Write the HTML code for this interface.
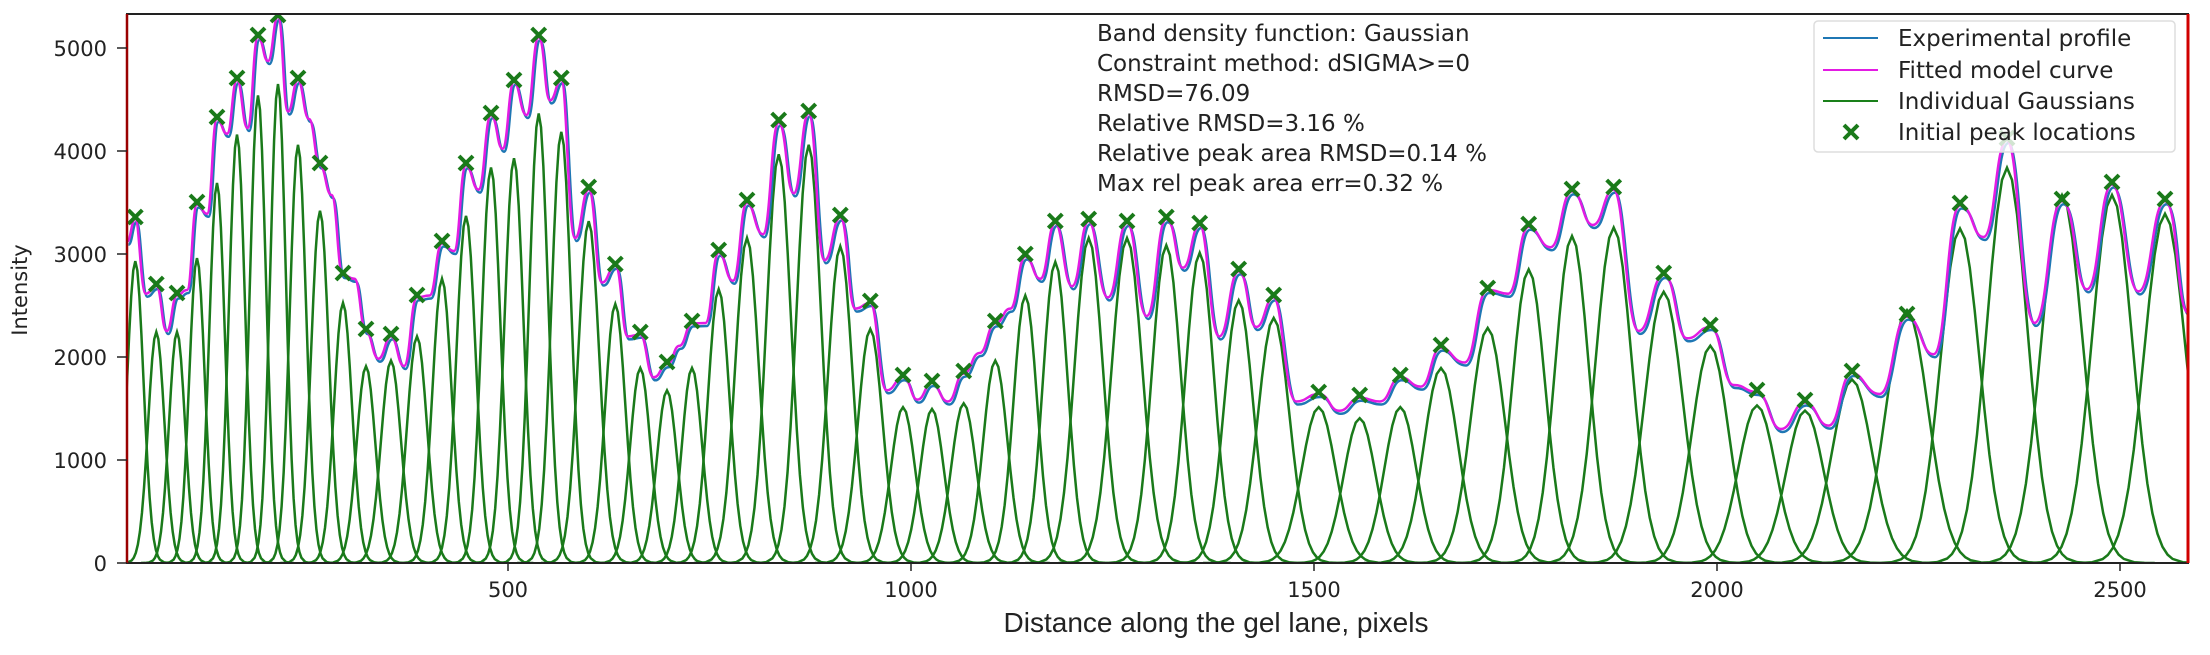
<!DOCTYPE html>
<html><head><meta charset="utf-8">
<style>
html,body{margin:0;padding:0;background:#fff;}
svg{display:block;font-family:"DejaVu Sans","Liberation Sans",sans-serif;}
</style></head>
<body>
<svg width="2210" height="655" viewBox="0 0 2210 655" xmlns="http://www.w3.org/2000/svg" xmlns:xlink="http://www.w3.org/1999/xlink">
<defs>
<clipPath id="c"><rect x="127" y="14" width="2061" height="549"/></clipPath>
<path id="gs" d="M-4.5 0L-4 -.0003L-3.5 -.0022L-3 -.0111L-2.75 -.0228L-2.5 -.0439L-2.25 -.0796L-2 -.1353L-1.75 -.2163L-1.5 -.3247L-1.25 -.4578L-1 -.6065L-.75 -.7548L-.5 -.8825L-.25 -.9692L0 -1L.25 -.9692L.5 -.8825L.75 -.7548L1 -.6065L1.25 -.4578L1.5 -.3247L1.75 -.2163L2 -.1353L2.25 -.0796L2.5 -.0439L2.75 -.0228L3 -.0111L3.5 -.0022L4 -.0003L4.5 0" fill="none" stroke="#1a7a1a" stroke-width="2.5" vector-effect="non-scaling-stroke"/>
<path id="mx" d="M-7 -7L7 7M7 -7L-7 7" stroke="#1a7a1a" stroke-width="4"/>
</defs>
<rect width="2210" height="655" fill="#fff"/>
<g clip-path="url(#c)">
<use href="#gs" transform="translate(135.3,563) scale(8.2,301.8)"/>
<use href="#gs" transform="translate(156.3,563) scale(8.2,231)"/>
<use href="#gs" transform="translate(177,563) scale(8,231)"/>
<use href="#gs" transform="translate(197,563) scale(7.8,304.9)"/>
<use href="#gs" transform="translate(217,563) scale(7.8,380.1)"/>
<use href="#gs" transform="translate(237,563) scale(8,428.5)"/>
<use href="#gs" transform="translate(258,563) scale(8,467.6)"/>
<use href="#gs" transform="translate(278,563) scale(7.8,479)"/>
<use href="#gs" transform="translate(298,563) scale(8.2,418.2)"/>
<use href="#gs" transform="translate(320,563) scale(8.8,352.3)"/>
<use href="#gs" transform="translate(343,563) scale(9,260.1)"/>
<use href="#gs" transform="translate(366,563) scale(9.4,196.7)"/>
<use href="#gs" transform="translate(391,563) scale(10,202.4)"/>
<use href="#gs" transform="translate(417,563) scale(10,226.6)"/>
<use href="#gs" transform="translate(442,563) scale(9.6,284.3)"/>
<use href="#gs" transform="translate(466,563) scale(9.6,347.1)"/>
<use href="#gs" transform="translate(491,563) scale(9.4,395.5)"/>
<use href="#gs" transform="translate(514,563) scale(9.4,404.8)"/>
<use href="#gs" transform="translate(538.7,563) scale(9.3,449.6)"/>
<use href="#gs" transform="translate(561.3,563) scale(9.8,431.1)"/>
<use href="#gs" transform="translate(588.7,563) scale(10.6,341.8)"/>
<use href="#gs" transform="translate(615.3,563) scale(10.1,259)"/>
<use href="#gs" transform="translate(640.3,563) scale(10.1,195)"/>
<use href="#gs" transform="translate(667,563) scale(10.1,172.6)"/>
<use href="#gs" transform="translate(692,563) scale(10.1,195)"/>
<use href="#gs" transform="translate(718.7,563) scale(10.8,273.8)"/>
<use href="#gs" transform="translate(747,563) scale(11.8,325.1)"/>
<use href="#gs" transform="translate(778.7,563) scale(12.1,408.7)"/>
<use href="#gs" transform="translate(808.7,563) scale(12.1,418.2)"/>
<use href="#gs" transform="translate(840.3,563) scale(12.1,316.7)"/>
<use href="#gs" transform="translate(870.3,563) scale(12.3,234)"/>
<use href="#gs" transform="translate(903,563) scale(12.1,155.8)"/>
<use href="#gs" transform="translate(932,563) scale(11.9,154)"/>
<use href="#gs" transform="translate(963.7,563) scale(12.4,159.7)"/>
<use href="#gs" transform="translate(995.3,563) scale(12.1,202.4)"/>
<use href="#gs" transform="translate(1025.3,563) scale(11.8,267.5)"/>
<use href="#gs" transform="translate(1055.3,563) scale(12.4,301)"/>
<use href="#gs" transform="translate(1088.7,563) scale(14.1,325)"/>
<use href="#gs" transform="translate(1127,563) scale(15.2,325)"/>
<use href="#gs" transform="translate(1166.3,563) scale(14.3,317.7)"/>
<use href="#gs" transform="translate(1199.7,563) scale(14.2,310.2)"/>
<use href="#gs" transform="translate(1238.7,563) scale(14.5,262.7)"/>
<use href="#gs" transform="translate(1273.7,563) scale(15.7,245.1)"/>
<use href="#gs" transform="translate(1318.7,563) scale(16.9,155.8)"/>
<use href="#gs" transform="translate(1359.7,563) scale(16,144.8)"/>
<use href="#gs" transform="translate(1400.3,563) scale(15.9,155.9)"/>
<use href="#gs" transform="translate(1441,563) scale(17.1,195)"/>
<use href="#gs" transform="translate(1487.7,563) scale(17.2,235.1)"/>
<use href="#gs" transform="translate(1528.7,563) scale(16.5,293.6)"/>
<use href="#gs" transform="translate(1572,563) scale(16.7,327)"/>
<use href="#gs" transform="translate(1613.7,563) scale(18,335.5)"/>
<use href="#gs" transform="translate(1663.7,563) scale(18.9,271.2)"/>
<use href="#gs" transform="translate(1710.3,563) scale(18.3,217.3)"/>
<use href="#gs" transform="translate(1757,563) scale(18.6,157.6)"/>
<use href="#gs" transform="translate(1805,563) scale(18.6,152.4)"/>
<use href="#gs" transform="translate(1852,563) scale(20,183.5)"/>
<use href="#gs" transform="translate(1907,563) scale(21.2,252.9)"/>
<use href="#gs" transform="translate(1960,563) scale(19.6,334.5)"/>
<use href="#gs" transform="translate(2007,563) scale(20,395.3)"/>
<use href="#gs" transform="translate(2062,563) scale(20.6,368)"/>
<use href="#gs" transform="translate(2112,563) scale(20.2,368)"/>
<use href="#gs" transform="translate(2165,563) scale(20.8,349.2)"/>
<g id="fit">
<path id="fp" d="M127 241.6C131 241.6 131.2 219 135.3 219S140.6 293.7 145.8 293.7S151.1 286 156.3 286S161.5 331 166.7 331S171.9 295.5 177 295.5S182 290 187 290S192 204.5 197 204.5S202 213.8 207 213.8S212 119 217 119S222 133.8 227 133.8S232 80 237 80S242.3 128 247.5 128S252.8 37 258 37S263 61 268 61S273 16.7 278 16.7S283 111.5 288 111.5S293 80 298 80S303.5 119 309 119S314.5 165.4 320 165.4S325.8 195 331.5 195S337.3 275 343 275S348.8 278.8 354.5 278.8S360.3 331 366 331S372.3 358.7 378.5 358.7S384.8 336.4 391 336.4S397.5 366 404 366S410.5 297.4 417 297.4S423.3 295.5 429.5 295.5S435.8 243.5 442 243.5S448 251 454 251S460 165.4 466 165.4S472.3 189.6 478.5 189.6S484.8 115.2 491 115.2S496.8 148.7 502.5 148.7S508.3 81.8 514 81.8S520.2 115 526.4 115S532.6 37.2 538.7 37.2S544.4 100.4 550 100.4S555.7 80 561.3 80S568.2 238 575 238S581.9 189.6 588.7 189.6S595.4 282.5 602 282.5S608.7 265.8 615.3 265.8S621.6 336.4 627.8 336.4S634.1 334.6 640.3 334.6S647 377.3 653.7 377.3S660.4 364.3 667 364.3S673.3 345.7 679.5 345.7S685.8 323.4 692 323.4S698.7 323 705.4 323S712 252.8 718.7 252.8S725.8 280.7 732.9 280.7S740 202.6 747 202.6S755 234.2 762.9 234.2S770.8 122.7 778.7 122.7S786.2 193.3 793.7 193.3S801.2 113.4 808.7 113.4S816.6 260.2 824.5 260.2S832.4 217.5 840.3 217.5S847.8 308.6 855.3 308.6S862.8 303 870.3 303S878.5 390.3 886.7 390.3S894.9 377.3 903 377.3S910.3 399.6 917.5 399.6S924.8 383 932 383S940 401.5 947.9 401.5S955.8 373.6 963.7 373.6S971.6 353 979.5 353S987.4 323.4 995.3 323.4S1002.8 308.6 1010.3 308.6S1017.8 256.5 1025.3 256.5S1032.8 278.8 1040.3 278.8S1047.8 223 1055.3 223S1063.7 286.2 1072 286.2S1080.4 221.2 1088.7 221.2S1098.3 297.4 1107.9 297.4S1117.5 223 1127 223S1136.9 316 1146.7 316S1156.5 219.3 1166.3 219.3S1174.7 267.7 1183 267.7S1191.4 225 1199.7 225S1209.5 336.4 1219.2 336.4S1229 271.4 1238.7 271.4S1247.5 327 1256.2 327S1265 297.4 1273.7 297.4S1285 401.5 1296.2 401.5S1307.5 394 1318.7 394S1329 410.8 1339.2 410.8S1349.5 397.8 1359.7 397.8S1369.9 401.5 1380 401.5S1390.2 377.3 1400.3 377.3S1410.5 386.6 1420.7 386.6S1430.9 347.6 1441 347.6S1452.7 362.5 1464.4 362.5S1476 290 1487.7 290S1498 293.7 1508.2 293.7S1518.5 226.8 1528.7 226.8S1539.6 247.2 1550.4 247.2S1561.2 191.4 1572 191.4S1582.5 225 1592.9 225S1603.3 189.6 1613.7 189.6S1626.2 330.9 1638.7 330.9S1651.2 275 1663.7 275S1675.4 338.3 1687 338.3S1698.7 327 1710.3 327S1722 385 1733.7 385S1745.4 392 1757 392S1769 429 1781 429S1793 402.5 1805 402.5S1816.8 425.6 1828.5 425.6S1840.3 373 1852 373S1865.8 394 1879.5 394S1893.3 316.6 1907 316.6S1920.3 354.3 1933.5 354.3S1946.8 205.5 1960 205.5S1971.8 237 1983.5 237S1995.3 140 2007 140S2020.8 322.9 2034.5 322.9S2048.3 201.3 2062 201.3S2074.5 289.3 2087 289.3S2099.5 184.5 2112 184.5S2125.3 291.4 2138.5 291.4S2151.8 201.3 2165 201.3S2176.5 312.4 2188 312.4" fill="none"/>
</g>
<use href="#fp" transform="translate(1.5,3)" stroke="#1f77b4" stroke-width="2.5"/>
<use href="#fp" stroke="#e31be3" stroke-width="2.5"/>
<g>
<use href="#mx" x="135.3" y="217"/><use href="#mx" x="156.3" y="284"/><use href="#mx" x="177" y="293"/><use href="#mx" x="197" y="202"/>
<use href="#mx" x="217" y="117"/><use href="#mx" x="237" y="78"/><use href="#mx" x="258" y="35"/><use href="#mx" x="278" y="15"/>
<use href="#mx" x="298" y="78"/><use href="#mx" x="320" y="163"/><use href="#mx" x="343" y="273"/><use href="#mx" x="366" y="329"/>
<use href="#mx" x="391" y="334"/><use href="#mx" x="417" y="295"/><use href="#mx" x="442" y="241"/><use href="#mx" x="466" y="163"/>
<use href="#mx" x="491" y="113"/><use href="#mx" x="514" y="80"/><use href="#mx" x="538.7" y="35"/><use href="#mx" x="561.3" y="78"/>
<use href="#mx" x="588.7" y="187"/><use href="#mx" x="615.3" y="264"/><use href="#mx" x="640.3" y="332"/><use href="#mx" x="667" y="362"/>
<use href="#mx" x="692" y="321"/><use href="#mx" x="718.7" y="250"/><use href="#mx" x="747" y="200"/><use href="#mx" x="778.7" y="120"/>
<use href="#mx" x="808.7" y="111"/><use href="#mx" x="840.3" y="215"/><use href="#mx" x="870.3" y="301"/><use href="#mx" x="903" y="375"/>
<use href="#mx" x="932" y="381"/><use href="#mx" x="963.7" y="371"/><use href="#mx" x="995.3" y="321"/><use href="#mx" x="1025.3" y="254"/>
<use href="#mx" x="1055.3" y="221"/><use href="#mx" x="1088.7" y="219"/><use href="#mx" x="1127" y="221"/><use href="#mx" x="1166.3" y="217"/>
<use href="#mx" x="1199.7" y="223"/><use href="#mx" x="1238.7" y="269"/><use href="#mx" x="1273.7" y="295"/><use href="#mx" x="1318.7" y="392"/>
<use href="#mx" x="1359.7" y="395"/><use href="#mx" x="1400.3" y="375"/><use href="#mx" x="1441" y="345"/><use href="#mx" x="1487.7" y="288"/>
<use href="#mx" x="1528.7" y="224"/><use href="#mx" x="1572" y="189"/><use href="#mx" x="1613.7" y="187"/><use href="#mx" x="1663.7" y="273"/>
<use href="#mx" x="1710.3" y="325"/><use href="#mx" x="1757" y="390"/><use href="#mx" x="1805" y="400"/><use href="#mx" x="1852" y="371"/>
<use href="#mx" x="1907" y="314"/><use href="#mx" x="1960" y="203"/><use href="#mx" x="2007" y="138"/><use href="#mx" x="2062" y="199"/>
<use href="#mx" x="2112" y="182"/><use href="#mx" x="2165" y="199"/>
</g>
</g>
<rect x="127" y="14" width="2061" height="549" fill="none" stroke="#222" stroke-width="2"/>
<line x1="127" y1="14" x2="127" y2="563" stroke="#9a0000" stroke-width="2.5"/>
<line x1="2188" y1="14" x2="2188" y2="563" stroke="#d00000" stroke-width="3"/>
<g stroke="#222" stroke-width="1.5">
<line x1="117" y1="563" x2="127" y2="563"/><line x1="117" y1="460" x2="127" y2="460"/>
<line x1="117" y1="357" x2="127" y2="357"/><line x1="117" y1="254" x2="127" y2="254"/>
<line x1="117" y1="151" x2="127" y2="151"/><line x1="117" y1="48" x2="127" y2="48"/>
<line x1="508" y1="563" x2="508" y2="571"/><line x1="911" y1="563" x2="911" y2="571"/>
<line x1="1314" y1="563" x2="1314" y2="571"/><line x1="1717" y1="563" x2="1717" y2="571"/>
<line x1="2120" y1="563" x2="2120" y2="571"/>
</g>
<g font-size="21" fill="#222" text-anchor="end">
<text x="107" y="571">0</text><text x="107" y="468">1000</text><text x="107" y="365">2000</text>
<text x="107" y="262">3000</text><text x="107" y="159">4000</text><text x="107" y="56">5000</text>
</g>
<g font-size="21" fill="#222" text-anchor="middle">
<text x="508" y="597">500</text><text x="911" y="597">1000</text><text x="1314" y="597">1500</text>
<text x="1717" y="597">2000</text><text x="2120" y="597">2500</text>
</g>
<text x="1216" y="632" font-size="28" text-anchor="middle" fill="#222" font-family="Liberation Sans, sans-serif">Distance along the gel lane, pixels</text>
<text transform="translate(27,290) rotate(-90)" font-size="21" text-anchor="middle" fill="#222">Intensity</text>
<g font-size="23" fill="#222">
<text x="1097" y="41">Band density function: Gaussian</text>
<text x="1097" y="71">Constraint method: dSIGMA&gt;=0</text>
<text x="1097" y="101">RMSD=76.09</text>
<text x="1097" y="131">Relative RMSD=3.16 %</text>
<text x="1097" y="161">Relative peak area RMSD=0.14 %</text>
<text x="1097" y="191">Max rel peak area err=0.32 %</text>
</g>
<g>
<rect x="1814" y="21" width="361" height="131" rx="4" fill="#fff" fill-opacity="0.8" stroke="#ddd" stroke-width="1.5"/>
<line x1="1823" y1="38" x2="1878" y2="38" stroke="#1f77b4" stroke-width="2"/>
<line x1="1823" y1="70" x2="1878" y2="70" stroke="#e31be3" stroke-width="2"/>
<line x1="1823" y1="101" x2="1878" y2="101" stroke="#1a801a" stroke-width="2"/>
<use href="#mx" x="1851" y="132"/>
<g font-size="23" fill="#222">
<text x="1898" y="46">Experimental profile</text>
<text x="1898" y="78">Fitted model curve</text>
<text x="1898" y="109">Individual Gaussians</text>
<text x="1898" y="140">Initial peak locations</text>
</g>
</g>
</svg>
</body></html>
